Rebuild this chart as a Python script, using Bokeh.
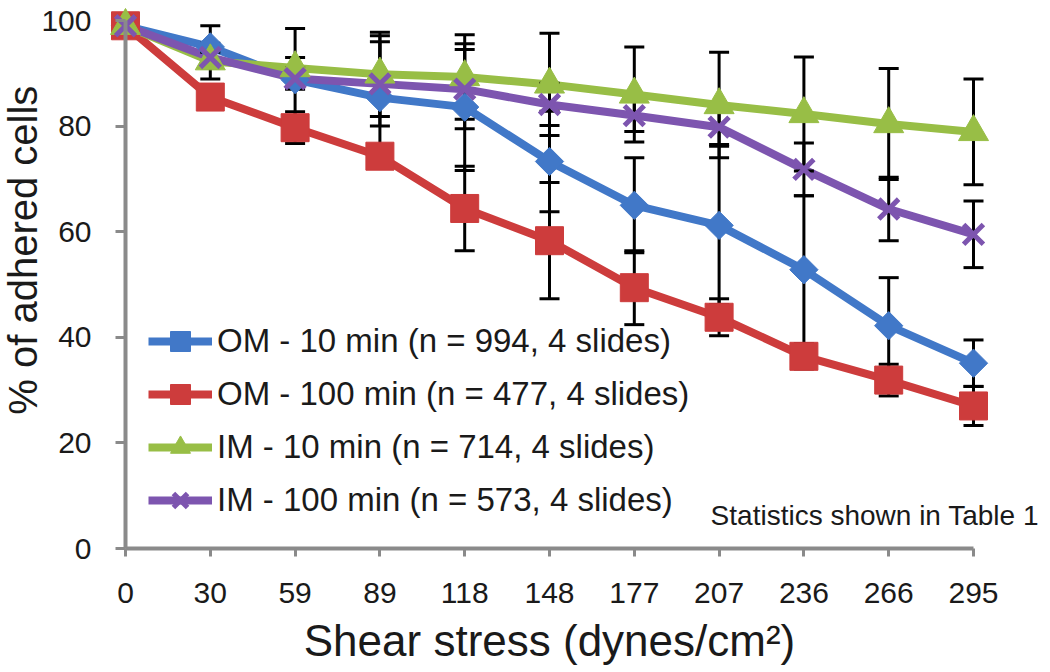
from math import pi
from bokeh.plotting import figure
from bokeh.models import Range1d, Legend, LegendItem, Label, FixedTicker
from bokeh.embed import file_html
from bokeh.resources import INLINE

# ---- data ----
shear_labels = ["0", "30", "59", "89", "118", "148", "177", "207", "236", "266", "295"]

om10_vals = [99, 95, 88.8, 85.4, 83.6, 73.3, 65, 61.2, 52.8, 42.2, 35.1]
om10_err = [0, 4, 9.7, 11.7, 12, 9.5, 9, 15, 14, 9.1, 4.4]

om100_vals = [99, 85.5, 79.7, 74.3, 64.4, 58.3, 49.4, 43.8, 36.4, 31.9, 27]
om100_err = [0, 1, 3, 2, 8, 11, 7, 3.5, 2.4, 3, 3.7]

im10_vals = [99, 92.3, 91, 89.8, 89.3, 87.9, 86, 84, 82.3, 80.4, 78.9]
im10_err = [0, 3.4, 2, 8, 8, 9.7, 9, 10, 10.8, 10.5, 10]

im100_vals = [99, 93, 89, 88, 87, 84.1, 82, 79.8, 71.8, 64.3, 59.5]
im100_err = [0, 1, 2, 8, 7.5, 4, 3, 3.3, 5, 6, 6.3]

series_names = [
    "OM - 10 min (n = 994, 4 slides)",
    "OM - 100 min (n = 477, 4 slides)",
    "IM - 10 min (n = 714, 4 slides)",
    "IM - 100 min (n = 573, 4 slides)",
]
series_colors = ["#4178C8", "#CD3C3C", "#98BE46", "#7D55AF"]

y_ticks = [0, 20, 40, 60, 80, 100]

FONT = "Liberation Sans"
AXIS_GRAY = "#8a8a8a"
TXT = "#1a1a1a"

x_pos = list(range(len(shear_labels)))

# frame covers the whole canvas; axes are pinned at x=0 / y=0 with fixed_location
p = figure(width=1050, height=672, output_backend="svg", toolbar_location=None,
           x_range=Range1d(-1.4741, 10.908), y_range=Range1d(-23.48, 103.79),
           min_border_left=0, min_border_right=0, min_border_top=0, min_border_bottom=0)
p.outline_line_color = None
p.grid.visible = False
p.background_fill_color = "white"
p.border_fill_color = "white"

# x axis
xa = p.xaxis[0]
xa.fixed_location = 0
xa.bounds = (0, 10)
xa.ticker = FixedTicker(ticks=x_pos)
xa.major_label_overrides = {i: lab for i, lab in zip(x_pos, shear_labels)}
xa.axis_line_color = AXIS_GRAY
xa.axis_line_width = 4
xa.major_tick_line_color = AXIS_GRAY
xa.major_tick_line_width = 3
xa.major_tick_out = 8
xa.major_tick_in = 0
xa.minor_tick_line_color = None
xa.major_label_text_font = FONT
xa.major_label_text_font_size = "30px"
xa.major_label_text_color = TXT
xa.major_label_standoff = 26
xa.axis_label = "Shear stress (dynes/cm\u00b2)"
xa.axis_label_text_font = FONT
xa.axis_label_text_font_size = "44px"
xa.axis_label_text_font_style = "normal"
xa.axis_label_text_color = TXT
xa.axis_label_standoff = 10

# y axis
ya = p.yaxis[0]
ya.fixed_location = 0
ya.bounds = (0, 100)
ya.ticker = FixedTicker(ticks=y_ticks)
ya.axis_line_color = AXIS_GRAY
ya.axis_line_width = 4
ya.major_tick_line_color = AXIS_GRAY
ya.major_tick_line_width = 3
ya.major_tick_out = 10
ya.major_tick_in = 0
ya.minor_tick_line_color = None
ya.major_label_text_font = FONT
ya.major_label_text_font_size = "30px"
ya.major_label_text_color = TXT
ya.major_label_standoff = 24

all_vals = [om10_vals, om100_vals, im10_vals, im100_vals]
all_errs = [om10_err, om100_err, im10_err, im100_err]

# lines
line_rs = []
for vals, col in zip(all_vals, series_colors):
    line_rs.append(p.line(x_pos, vals, line_color=col, line_width=8, line_join="round"))

# error bars
for vals, errs in zip(all_vals, all_errs):
    xs = [xi for xi, e in zip(x_pos, errs) if e > 0]
    lo = [v - e for v, e in zip(vals, errs) if e > 0]
    hi = [v + e for v, e in zip(vals, errs) if e > 0]
    p.segment(x0=xs, y0=lo, x1=xs, y1=hi, line_color="black", line_width=3)
    p.scatter(xs + xs, lo + hi, marker="dash", size=20, line_color="black", line_width=3)

# markers
marker_specs = [
    dict(marker="square", angle=pi / 4, size=20),
    dict(marker="square", size=28),
    dict(marker="triangle", size=30),
    dict(marker="x", size=28),
]
marker_rs = []
for vals, col, spec in zip(all_vals, series_colors, marker_specs):
    if spec["marker"] == "x":
        r = p.scatter(x_pos, vals, line_color=col, line_width=5, **spec)
    else:
        r = p.scatter(x_pos, vals, fill_color=col, line_color=col, **spec)
    marker_rs.append(r)

legend = Legend(
    items=[LegendItem(label=n, renderers=[lr, mr]) for n, lr, mr in zip(series_names, line_rs, marker_rs)],
    location=(148, 147), orientation="vertical",
    border_line_color=None, background_fill_alpha=0,
    padding=0, margin=0, spacing=3,
    glyph_width=64, glyph_height=50, label_standoff=5,
    label_text_font=FONT, label_text_font_size="33px", label_text_color=TXT,
)
p.add_layout(legend)

# y axis title
p.add_layout(Label(x=-1.21, y=56.5, text="% of adhered cells", angle=pi / 2,
                   text_align="center", text_baseline="middle",
                   text_font=FONT, text_font_size="40px", text_color=TXT))

# note
p.add_layout(Label(x=6.9, y=6.2, text="Statistics shown in Table 1",
                   text_align="left", text_baseline="alphabetic",
                   text_font=FONT, text_font_size="28px", text_color=TXT))

open("out.html", "w").write(file_html(p, INLINE))
